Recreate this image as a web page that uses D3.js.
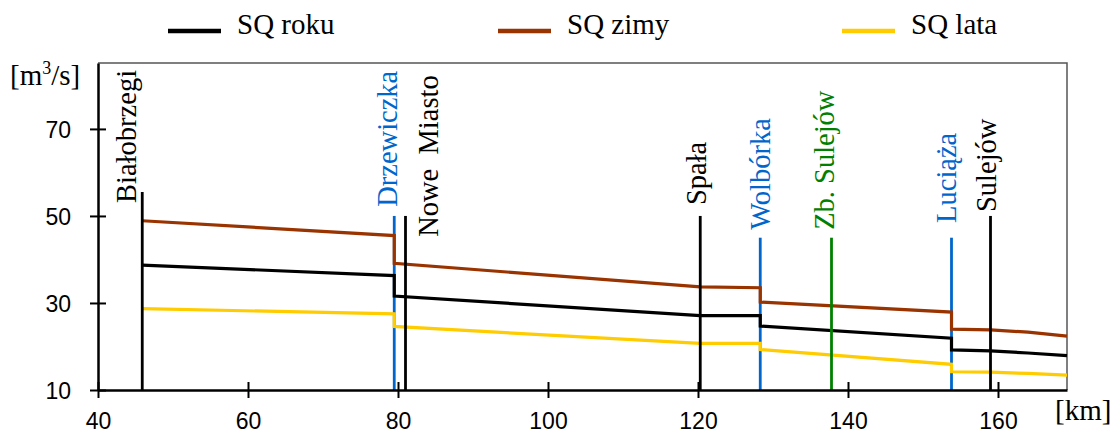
<!DOCTYPE html>
<html>
<head>
<meta charset="utf-8">
<script src="https://cdn.jsdelivr.net/npm/d3@7"></script>
<style>
  body { margin: 0; background: #fff; }
  .serif { font-family: "Liberation Serif", "Times New Roman", serif; }
  .sans { font-family: "Liberation Sans", Arial, sans-serif; }
</style>
</head>
<body>
<div id="chart"></div>
<script>
// river profile, km along the river
const km = [45.9, 79.5, 79.5, 120.3, 128.3, 128.3, 153.8, 153.8, 159, 164, 169.2];
const sqRoku = [38.7, 36.3, 31.6, 27.1, 27.1, 24.7, 21.9, 19.2, 19.0, 18.5, 17.9];
const sqZimy = [48.9, 45.5, 39.1, 33.7, 33.5, 30.2, 27.9, 24.0, 23.8, 23.3, 22.4];
const sqLata = [28.7, 27.5, 24.6, 20.7, 20.7, 19.3, 15.9, 14.2, 14.1, 13.8, 13.4];
const seriesNames = ["SQ roku", "SQ zimy", "SQ lata"];

const stationNames = ["Białobrzegi", "Drzewiczka", "Nowe  Miasto", "Spała", "Wolbórka", "Zb. Sulejów", "Luciąża", "Sulejów"];
const stationKm = [45.9, 79.5, 81.0, 120.3, 128.3, 137.8, 153.8, 159.0];
const stationTop = [55.5, 50, 50, 50, 45, 45, 45, 50];
const stationKind = ["gauge", "tributary", "gauge", "gauge", "tributary", "reservoir", "tributary", "gauge"];
// where each label starts, in km and m3/s
const labelKm = [43.8, 78.6, 84.1, 119.8, 128.4, 136.9, 153.1, 158.5];
const labelQ = [53.0, 52.1, 45.2, 52.5, 46.8, 46.8, 48.4, 50.9];

const xTicks = [40, 60, 80, 100, 120, 140, 160];
const yTicks = [10, 30, 50, 70];

const W = 1116, H = 436;
const pLeft = 98, pRight = 1067, pTop = 63, pBottom = 390;
const seriesColor = ["#000000", "#993300", "#ffcc00"];
const kindColor = {gauge: "#000000", tributary: "#0066cc", reservoir: "#008000"};

const svg = d3.select("#chart").append("svg")
    .attr("width", W)
    .attr("height", H);

const x = d3.scaleLinear().domain([40, 169.2]).range([pLeft, pRight]);
const y = d3.scaleLinear().domain([10, 85.15]).range([pBottom, pTop]);

// frame (top and right)
svg.append("path")
    .attr("d", `M${pLeft},${pTop}H${pRight}V${pBottom}`)
    .attr("fill", "none")
    .attr("stroke", "#555")
    .attr("stroke-width", 1.5);

const stationLayer = svg.append("g");
const seriesLayer = svg.append("g");
const gaugeLayer = svg.append("g");

// series
const line = d3.line().x(d => x(d[0])).y(d => y(d[1]));
[sqRoku, sqZimy, sqLata].forEach((vals, i) => {
  seriesLayer.append("path")
      .datum(km.map((k, j) => [k, vals[j]]))
      .attr("d", line)
      .attr("fill", "none")
      .attr("stroke", seriesColor[i])
      .attr("stroke-width", 3.2);
});

// stations: tributaries sit under the series, gauges and the reservoir above
stationNames.forEach((name, i) => {
  const c = kindColor[stationKind[i]];
  const layer = stationKind[i] === "tributary" ? stationLayer : gaugeLayer;
  layer.append("line")
      .attr("x1", x(stationKm[i])).attr("x2", x(stationKm[i]))
      .attr("y1", y(10)).attr("y2", y(stationTop[i]))
      .attr("stroke", c)
      .attr("stroke-width", 2.8);
  svg.append("text")
      .attr("class", "serif")
      .attr("transform", `translate(${x(labelKm[i])},${y(labelQ[i])}) rotate(-90)`)
      .attr("dy", "0.33em")
      .attr("font-size", 28.5)
      .attr("fill", c)
      .style("white-space", "pre")
      .text(name);
});

// axes
const xAxis = svg.append("g")
    .attr("transform", `translate(0,${pBottom})`)
    .call(d3.axisBottom(x).tickValues(xTicks).tickSizeOuter(0));
xAxis.select(".domain").attr("stroke", "#000").attr("stroke-width", 2.5);
xAxis.selectAll(".tick line").attr("y1", -8).attr("y2", 8).attr("stroke-width", 2);
xAxis.selectAll(".tick text")
    .attr("class", "sans")
    .attr("y", 39).attr("dy", 0)
    .attr("font-size", 23)
    .attr("fill", "#000");

const yAxis = svg.append("g")
    .attr("transform", `translate(${pLeft},0)`)
    .call(d3.axisLeft(y).tickValues(yTicks).tickSizeOuter(0));
yAxis.select(".domain").attr("stroke", "#000").attr("stroke-width", 2.5);
yAxis.selectAll(".tick line").attr("x1", -8).attr("x2", 8).attr("stroke-width", 2);
yAxis.selectAll(".tick text")
    .attr("class", "sans")
    .attr("x", -27).attr("dy", "0.36em")
    .attr("font-size", 23)
    .attr("fill", "#000");

// units
const unitY = svg.append("text")
    .attr("class", "serif")
    .attr("x", 10).attr("y", 85)
    .attr("font-size", 29);
unitY.append("tspan").text("[m");
unitY.append("tspan").attr("font-size", 18).attr("dy", -11).text("3");
unitY.append("tspan").attr("dy", 11).text("/s]");

svg.append("text")
    .attr("class", "serif")
    .attr("x", 1055).attr("y", 420)
    .attr("font-size", 29)
    .text("[km]");

// legend
const legendX = [168, 498, 842];
seriesNames.forEach((name, i) => {
  const g = svg.append("g").attr("transform", `translate(${legendX[i]},0)`);
  g.append("line")
      .attr("x1", 0).attr("x2", 53)
      .attr("y1", 31).attr("y2", 31)
      .attr("stroke", seriesColor[i])
      .attr("stroke-width", 4.5);
  g.append("text")
      .attr("class", "serif")
      .attr("x", 69).attr("y", 34)
      .attr("font-size", 29)
      .text(name);
});
</script>
</body>
</html>
